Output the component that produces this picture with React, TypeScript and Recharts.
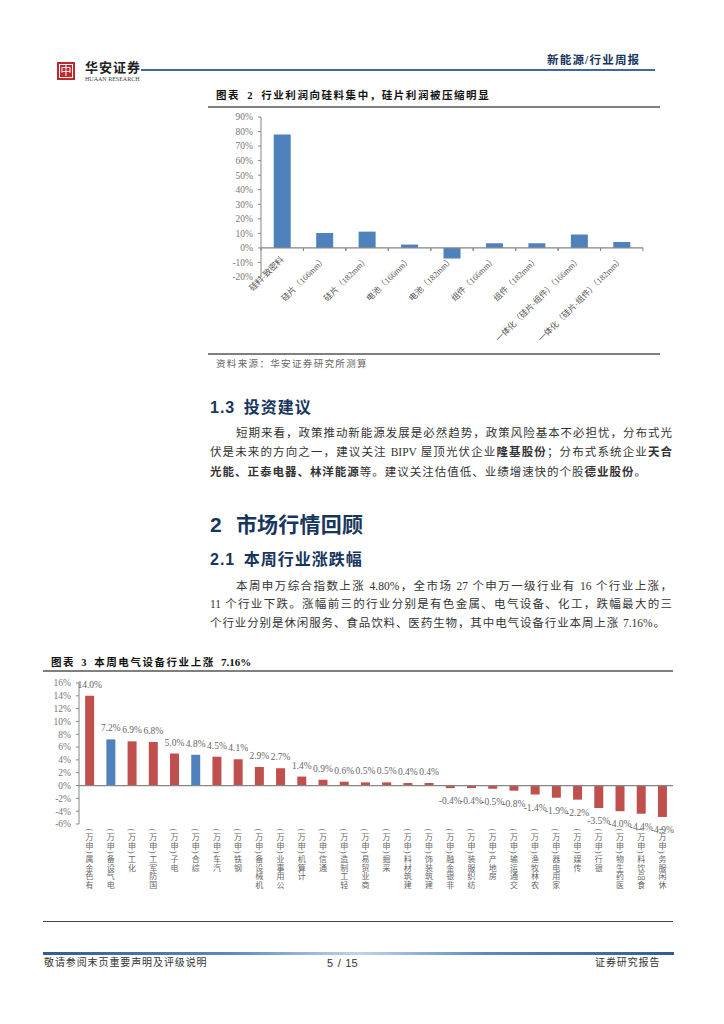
import React from "react"
import { BarChart, Bar, Cell, XAxis, YAxis, ReferenceLine, LabelList } from "recharts"

const SERIF = '"Liberation Serif", "Noto Sans CJK SC", serif'
const SANS = '"Liberation Sans", "Noto Sans CJK SC", sans-serif'
const NAVY = "#17365D"
const AXIS = "#868686"

// 图表 2
const profitCategories = [
  "硅料-致密料",
  "硅片（166mm）",
  "硅片（182mm）",
  "电池（166mm）",
  "电池（182mm）",
  "组件（166mm）",
  "组件（182mm）",
  "一体化（硅片-组件）（166mm）",
  "一体化（硅片-组件）（182mm）",
]
const profitValues = [78, 10.3, 11.2, 2.3, -7.3, 3.2, 3.2, 9.2, 4.1]
const profitTicks = [-20, -10, 0, 10, 20, 30, 40, 50, 60, 70, 80, 90]

// 图表 3
const industries = [
  "有色金属", "电气设备", "化工", "国防军工", "电子", "综合", "汽车",
  "钢铁", "机械设备", "公用事业", "计算机", "通信", "轻工制造", "商业贸易",
  "采掘", "建筑材料", "建筑装饰", "非银金融", "纺织服装", "房地产", "交通运输",
  "农林牧渔", "家用电器", "传媒", "银行", "医药生物", "食品饮料", "休闲服务",
]
const weeklyChange = [
  14.0, 7.2, 6.9, 6.8, 5.0, 4.8, 4.5, 4.1, 2.9, 2.7, 1.4, 0.9, 0.6, 0.5,
  0.5, 0.4, 0.4, -0.4, -0.4, -0.5, -0.8, -1.4, -1.9, -2.2, -3.5, -4.0, -4.4, -4.9,
]
const highlighted = ["电气设备", "综合"]
const changeTicks = [-6, -4, -2, 0, 2, 4, 6, 8, 10, 12, 14, 16]

const profitData = profitCategories.map((name, i) => ({ name, value: profitValues[i] }))
const changeData = industries.map((name, i) => ({ name: `${name}(申万)`, short: name, value: weeklyChange[i] }))

const percent = (v: number) => `${v}%`

function Txt({ x, y, size, color = "#333", bold, font = SERIF, width, spacing, wordGap, children }: any) {
  return (
    <div
      style={{
        position: "absolute",
        left: x,
        top: y - 10,
        height: 20,
        lineHeight: "20px",
        fontSize: size,
        color,
        fontFamily: font,
        fontWeight: bold ? 700 : 400,
        letterSpacing: spacing,
        wordSpacing: wordGap,
        whiteSpace: "nowrap",
        width,
        textAlign: width ? "justify" : undefined,
        textAlignLast: width ? "justify" : undefined,
      }}
    >
      {children}
    </div>
  )
}

function Rule({ x, y, w, h = 1, color = "#7f7f7f", background }: any) {
  return <div style={{ position: "absolute", left: x, top: y, width: w, height: h, background: background || color }} />
}

// 斜排标签，刻度线画在零轴上
function SlantTick({ x, y, payload, band, zeroOffset }: any) {
  return (
    <g>
      <line x1={x - band / 2} x2={x - band / 2} y1={y - zeroOffset} y2={y - zeroOffset + 3} stroke={AXIS} />
      <line x1={x + band / 2} x2={x + band / 2} y1={y - zeroOffset} y2={y - zeroOffset + 3} stroke={AXIS} />
      <text
        transform={`translate(${x + 2},${y - zeroOffset + 12}) rotate(-45)`}
        textAnchor="end"
        fontSize={8.4}
        fill="#555"
        fontFamily={SERIF}
      >
        {payload.value}
      </text>
    </g>
  )
}

// 从下往上排的竖排标签，字形保持直立
function StackedTick({ x, y, payload }: any) {
  const chars = Array.from(String(payload.value)).reverse()
  let cursor = y + 4
  return (
    <g fontSize={8} fill="#666" fontFamily={SERIF} textAnchor="middle">
      {chars.map((c, i) => {
        const paren = c === "(" || c === ")"
        const pos = cursor + (paren ? 2 : 6)
        cursor += paren ? 5 : 8.6
        return paren ? (
          <text key={i} transform={`translate(${x - 1},${pos}) rotate(-90)`} dy={2}>
            {c}
          </text>
        ) : (
          <text key={i} x={x} y={pos + 1}>
            {c}
          </text>
        )
      })}
    </g>
  )
}

function ChangeLabel({ x, y, width, height, value }: any) {
  const top = Math.min(y, y + height)
  const bottom = Math.max(y, y + height)
  const ly = value >= 0 ? top - 8 : bottom + 16
  return (
    <text x={x + width / 2} y={ly} textAnchor="middle" fontSize={9.5} fill="#666" fontFamily={SERIF}>
      {value.toFixed(1)}%
    </text>
  )
}

function Chart2() {
  return (
    <div style={{ position: "absolute", left: 205, top: 105, fontFamily: SERIF }}>
      <BarChart
        width={445}
        height={260}
        data={profitData}
        margin={{ top: 12, right: 7, bottom: 0, left: 0 }}
        barCategoryGap="30%"
      >
        <XAxis
          dataKey="name"
          axisLine={false}
          tickLine={false}
          tickSize={0}
          tickMargin={0}
          interval={0}
          height={88}
          tick={<SlantTick band={42.4} zeroOffset={29} />}
        />
        <YAxis
          width={56}
          domain={[-20, 90]}
          ticks={profitTicks}
          interval={0}
          tickFormatter={percent}
          tickSize={3}
          tickMargin={5}
          stroke={AXIS}
          tick={{ fontSize: 9.5, fill: "#777", fontFamily: SERIF }}
        />
        <Bar dataKey="value" fill="#4F81BD" isAnimationActive={false} />
        <ReferenceLine y={0} stroke={AXIS} strokeWidth={1.2} />
      </BarChart>
    </div>
  )
}

function Chart3() {
  return (
    <div style={{ position: "absolute", left: 40, top: 675, fontFamily: SERIF }}>
      <BarChart
        width={640}
        height={225}
        data={changeData}
        margin={{ top: 8, right: 7, bottom: 0, left: 0 }}
        barCategoryGap="29%"
      >
        <XAxis
          dataKey="name"
          axisLine={false}
          tickLine={false}
          tickSize={0}
          tickMargin={0}
          interval={0}
          height={76}
          tick={<StackedTick />}
        />
        <YAxis
          width={39}
          domain={[-6, 16]}
          ticks={changeTicks}
          interval={0}
          tickFormatter={percent}
          tickSize={3}
          tickMargin={5}
          stroke={AXIS}
          tick={{ fontSize: 9.5, fill: "#777", fontFamily: SERIF }}
        />
        <Bar dataKey="value" isAnimationActive={false}>
          {changeData.map((d) => (
            <Cell key={d.name} fill={highlighted.includes(d.short) ? "#4F81BD" : "#C0504D"} />
          ))}
          <LabelList dataKey="value" content={<ChangeLabel />} />
        </Bar>
        <ReferenceLine y={0} stroke={AXIS} strokeWidth={1.2} />
      </BarChart>
    </div>
  )
}

function Logo() {
  return (
    <>
      <div style={{ position: "absolute", left: 57, top: 62, width: 18, height: 18, background: "#C0282D" }} />
      <div
        style={{
          position: "absolute",
          left: 59,
          top: 64,
          width: 12,
          height: 12,
          border: "1px solid #fff",
          color: "#fff",
          fontFamily: SERIF,
          fontSize: 11,
          lineHeight: "12px",
          textAlign: "center",
        }}
      >
        中
      </div>
      <Txt x={85} y={68} size={13} color="#222" bold spacing={1}>华安证券</Txt>
      <Txt x={85} y={79} size={6} color="#444" font={SERIF}>HUAAN RESEARCH</Txt>
    </>
  )
}

export default function App() {
  return (
    <div style={{ position: "absolute", left: 0, top: 0, width: 724, height: 1024, background: "#fff", overflow: "hidden" }}>
      <Logo />
      <Rule x={141} y={69} w={514} h={1.5} color="#3F68A3" />
      <Txt x={547} y={60} size={11.5} color={NAVY} bold spacing={1.2}>新能源/行业周报</Txt>

      <Txt x={216} y={96} size={10.5} color="#111" bold spacing={1.55} wordGap={3}>图表 2 行业利润向硅料集中，硅片利润被压缩明显</Txt>
      <Rule x={208} y={106} w={452} h={1.5} />
      <Chart2 />
      <Rule x={208} y={353} w={452} h={2} />
      <Txt x={216} y={364} size={9.5} color="#666" spacing={1.35}>资料来源：华安证券研究所测算</Txt>

      <Txt x={210} y={408} size={16} color={NAVY} bold font={SANS} spacing={1} wordGap={3}>1.3 投资建议</Txt>
      <Txt x={236} y={433} size={11.5} width={436}>短期来看，政策推动新能源发展是必然趋势，政策风险基本不必担忧，分布式光</Txt>
      <Txt x={210} y={452} size={11.5} width={462}>
        伏是未来的方向之一，建议关注 BIPV 屋顶光伏企业<b>隆基股份</b>；分布式系统企业<b>天合</b>
      </Txt>
      <Txt x={210} y={472} size={11.5} width={436}>
        <b>光能、正泰电器、林洋能源</b>等。建议关注估值低、业绩增速快的个股<b>德业股份</b>。
      </Txt>

      <Txt x={210} y={525} size={21} color={NAVY} bold font={SANS} spacing={0.2} wordGap={8}>2 市场行情回顾</Txt>
      <Txt x={210} y={560} size={16} color={NAVY} bold font={SANS} spacing={1} wordGap={3}>2.1 本周行业涨跌幅</Txt>
      <Txt x={236} y={586} size={11.5} width={436}>本周申万综合指数上涨 4.80%，全市场 27 个申万一级行业有 16 个行业上涨，</Txt>
      <Txt x={210} y={604} size={11.5} width={462}>11 个行业下跌。涨幅前三的行业分别是有色金属、电气设备、化工，跌幅最大的三</Txt>
      <Txt x={210} y={623} size={11.5} width={455}>个行业分别是休闲服务、食品饮料、医药生物，其中电气设备行业本周上涨 7.16%。</Txt>

      <Txt x={51} y={662} size={10.5} color="#111" bold spacing={1.55} wordGap={2}>
        图表 3 本周电气设备行业上涨 <span style={{ letterSpacing: 0, fontSize: 11 }}>7.16%</span>
      </Txt>
      <Rule x={43} y={670} w={630} h={1.5} />
      <Chart3 />
      <Rule x={43} y={921} w={630} h={1} color="#444" />

      <Rule
        x={43}
        y={952}
        w={631}
        h={3}
        background="linear-gradient(90deg,#2F5C93 0%,#5C8BC2 30%,#BFD4EA 50%,#5C8BC2 70%,#2F5C93 100%)"
      />
      <Txt x={44} y={963} size={10} color="#333" spacing={0.9}>敬请参阅末页重要声明及评级说明</Txt>
      <Txt x={327} y={963} size={11} color="#333" font={SANS} wordGap={1.5}>5 / 15</Txt>
      <Txt x={595} y={963} size={10} color="#333" spacing={0.9}>证券研究报告</Txt>
    </div>
  )
}
